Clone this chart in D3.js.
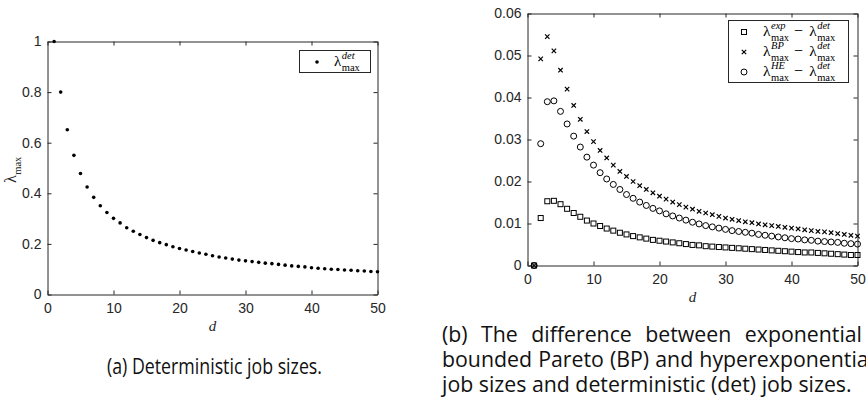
<!DOCTYPE html>
<html>
<head>
<meta charset="utf-8">
<script src="https://cdn.jsdelivr.net/npm/d3@7/dist/d3.min.js"></script>
<style>
body { margin: 0; background: #fff; }
</style>
</head>
<body>
<div id="vis"></div>
<script>
// values
var dValues = [1,2,3,4,5,6,7,8,9,10,11,12,13,14,15,16,17,18,19,20,21,22,23,24,25,
    26,27,28,29,30,31,32,33,34,35,36,37,38,39,40,41,42,43,44,45,46,47,48,49,50];

var lambdaDet = [1.000,0.800,0.651,0.550,0.478,0.425,0.384,0.351,0.324,0.301,
    0.283,0.264,0.250,0.237,0.225,0.214,0.205,0.197,0.189,0.182,
    0.176,0.170,0.164,0.159,0.153,0.148,0.144,0.140,0.136,0.133,
    0.130,0.127,0.124,0.122,0.119,0.116,0.113,0.111,0.109,0.106,
    0.104,0.102,0.100,0.099,0.097,0.096,0.094,0.093,0.091,0.090];

var diffExp = [0,0.0113,0.0153,0.0154,0.0146,0.0135,0.0125,0.0116,0.0107,0.0100,
    0.0094,0.0088,0.0083,0.0078,0.0074,0.0070,0.0067,0.0064,0.0061,0.0059,
    0.0057,0.0055,0.0053,0.0051,0.0049,0.0048,0.0046,0.0045,0.0044,0.0043,
    0.0042,0.0041,0.0040,0.0039,0.0038,0.0037,0.0036,0.0035,0.0034,0.0033,
    0.0032,0.0031,0.0031,0.0030,0.0029,0.0028,0.0027,0.0026,0.0025,0.0025];

var diffBP = [0,0.0492,0.0545,0.0511,0.0465,0.0420,0.0381,0.0348,0.0319,0.0295,
    0.0274,0.0256,0.0239,0.0224,0.0212,0.0200,0.0190,0.0181,0.0173,0.0165,
    0.0158,0.0151,0.0145,0.0139,0.0134,0.0129,0.0125,0.0121,0.0117,0.0113,
    0.0110,0.0107,0.0104,0.0102,0.0099,0.0097,0.0095,0.0093,0.0091,0.0089,
    0.0087,0.0085,0.0083,0.0081,0.0080,0.0078,0.0076,0.0074,0.0072,0.0070];

var diffHE = [0,0.0290,0.0390,0.0392,0.0367,0.0337,0.0308,0.0282,0.0258,0.0239,
    0.0221,0.0206,0.0193,0.0181,0.0169,0.0160,0.0151,0.0143,0.0136,0.0130,
    0.0123,0.0118,0.0113,0.0108,0.0103,0.0099,0.0095,0.0092,0.0089,0.0086,
    0.0083,0.0081,0.0079,0.0077,0.0074,0.0072,0.0070,0.0068,0.0066,0.0064,
    0.0063,0.0061,0.0060,0.0058,0.0057,0.0056,0.0055,0.0053,0.0052,0.0051];

var xTicks = [0, 10, 20, 30, 40, 50];
var leftYTicks = [0, 0.2, 0.4, 0.6, 0.8, 1];
var rightYTicks = [0, 0.01, 0.02, 0.03, 0.04, 0.05, 0.06];

var captionA = "(a) Deterministic job sizes.";
var captionB = ["(b) The difference between exponential",
    "bounded Pareto (BP) and hyperexponential",
    "job sizes and deterministic (det) job sizes."];

var axisColor = "#262626",
    tickFont = "'Liberation Sans', Arial, sans-serif",
    mathFont = "'Liberation Serif', 'DejaVu Serif', serif",
    capFont = "'Open Sans', 'Noto Sans', sans-serif";

var width = 866, height = 410;

var svg = d3.select("#vis").append("svg")
    .attr("width", width)
    .attr("height", height);

// math label like lambda^{sup}_{sub}, returns x after it
function lambda(g, x, y, sup, sub, size, small) {
    var t = g.append("text")
        .attr("x", x).attr("y", y)
        .attr("font-family", mathFont)
        .attr("font-size", size)
        .text("λ");
    var sx = x + t.node().getComputedTextLength() + 0.5;
    var w = 0;
    if (sup) {
        var s1 = g.append("text")
            .attr("x", sx).attr("y", y - size * 0.46)
            .attr("font-family", mathFont)
            .attr("font-style", "italic")
            .attr("font-size", small)
            .text(sup);
        w = s1.node().getComputedTextLength();
    }
    var s2 = g.append("text")
        .attr("x", sx).attr("y", y + size * 0.3)
        .attr("font-family", mathFont)
        .attr("font-size", small)
        .text(sub);
    w = Math.max(w, s2.node().getComputedTextLength());
    return sx + w;
}

function drawFrame(x, y, yTicks, yFormat) {
    var r0 = x.range(), r1 = y.range();

    var bottom = d3.axisBottom(x).tickValues(xTicks)
        .tickSizeInner(-4).tickSizeOuter(0).tickPadding(9);
    var top = d3.axisTop(x).tickValues(xTicks)
        .tickSizeInner(-4).tickSizeOuter(0).tickFormat("");
    var left = d3.axisLeft(y).tickValues(yTicks)
        .tickSizeInner(-4).tickSizeOuter(0).tickPadding(6).tickFormat(yFormat);
    var right = d3.axisRight(y).tickValues(yTicks)
        .tickSizeInner(-4).tickSizeOuter(0).tickFormat("");

    var gs = [
        svg.append("g").attr("transform", "translate(0," + r1[0] + ")").call(bottom),
        svg.append("g").attr("transform", "translate(0," + r1[1] + ")").call(top),
        svg.append("g").attr("transform", "translate(" + r0[0] + ",0)").call(left),
        svg.append("g").attr("transform", "translate(" + r0[1] + ",0)").call(right)
    ];
    gs.forEach(function(g) {
        g.select(".domain").attr("stroke", axisColor);
        g.selectAll(".tick line").attr("stroke", axisColor);
        g.selectAll("text")
            .attr("fill", axisColor)
            .attr("font-family", tickFont)
            .attr("font-size", 14);
    });
}

// ---------- (a) deterministic ----------
var xA = d3.scaleLinear().domain([0, 50]).range([47.5, 377.5]);
var yA = d3.scaleLinear().domain([0, 1]).range([294.5, 41.5]);

drawFrame(xA, yA, leftYTicks, function(d) { return d3.format("")(d); });

svg.append("g").selectAll("circle")
    .data(dValues)
    .enter().append("circle")
    .attr("cx", function(d) { return xA(d); })
    .attr("cy", function(d, i) { return yA(lambdaDet[i]); })
    .attr("r", 1.8)
    .attr("fill", "#000");

// x label
svg.append("text")
    .attr("x", (xA.range()[0] + xA.range()[1]) / 2)
    .attr("y", 331)
    .attr("text-anchor", "middle")
    .attr("font-family", mathFont)
    .attr("font-style", "italic")
    .attr("font-size", 15)
    .attr("fill", axisColor)
    .text("d");

// y label, rotated
var yLab = svg.append("g")
    .attr("transform", "translate(16," + 183 + ") rotate(-90)")
    .attr("fill", axisColor);
lambda(yLab, 0, 0, null, "max", 16, 10.5);

// legend (a)
svg.append("rect")
    .attr("x", 299.5).attr("y", 50.5)
    .attr("width", 71).attr("height", 22)
    .attr("fill", "#fff").attr("stroke", axisColor);
svg.append("circle")
    .attr("cx", 317).attr("cy", 62).attr("r", 1.8).attr("fill", "#000");
lambda(svg.append("g"), 334, 66, "det", "max", 15, 10.5);

// ---------- (b) differences ----------
var xB = d3.scaleLinear().domain([0, 50]).range([527.5, 857.5]);
var yB = d3.scaleLinear().domain([0, 0.06]).range([265.5, 13.5]);

drawFrame(xB, yB, rightYTicks, function(d) { return d === 0 ? "0" : d3.format(".2f")(d); });

var marks = svg.append("g")
    .attr("fill", "none")
    .attr("stroke", "#000")
    .attr("stroke-width", 1);

marks.selectAll("rect.exp")
    .data(dValues)
    .enter().append("rect")
    .attr("class", "exp")
    .attr("x", function(d) { return xB(d) - 2.5; })
    .attr("y", function(d, i) { return yB(diffExp[i]) - 2.5; })
    .attr("width", 5)
    .attr("height", 5);

marks.selectAll("path.bp")
    .data(dValues)
    .enter().append("path")
    .attr("class", "bp")
    .attr("stroke-width", 1.2)
    .attr("d", function(d, i) {
        var cx = xB(d), cy = yB(diffBP[i]), s = 2.2;
        return "M" + (cx - s) + "," + (cy - s) + "L" + (cx + s) + "," + (cy + s) +
            "M" + (cx - s) + "," + (cy + s) + "L" + (cx + s) + "," + (cy - s);
    });

marks.selectAll("circle.he")
    .data(dValues)
    .enter().append("circle")
    .attr("class", "he")
    .attr("cx", function(d) { return xB(d); })
    .attr("cy", function(d, i) { return yB(diffHE[i]); })
    .attr("r", 3);

svg.append("text")
    .attr("x", (xB.range()[0] + xB.range()[1]) / 2)
    .attr("y", 302)
    .attr("text-anchor", "middle")
    .attr("font-family", mathFont)
    .attr("font-style", "italic")
    .attr("font-size", 15)
    .attr("fill", axisColor)
    .text("d");

// legend (b)
svg.append("rect")
    .attr("x", 728.5).attr("y", 20.5)
    .attr("width", 120).attr("height", 62)
    .attr("fill", "#fff").attr("stroke", axisColor);

var legRows = [
    { sup: "exp", y: 32 },
    { sup: "BP", y: 52 },
    { sup: "HE", y: 72 }
];
legRows.forEach(function(r, i) {
    var g = svg.append("g");
    var mx = 744;
    if (i === 0) {
        g.append("rect").attr("x", mx - 2.5).attr("y", r.y - 2.5)
            .attr("width", 5).attr("height", 5)
            .attr("fill", "none").attr("stroke", "#000");
    } else if (i === 1) {
        g.append("path")
            .attr("d", "M" + (mx - 2.2) + "," + (r.y - 2.2) + "L" + (mx + 2.2) + "," + (r.y + 2.2) +
                "M" + (mx - 2.2) + "," + (r.y + 2.2) + "L" + (mx + 2.2) + "," + (r.y - 2.2))
            .attr("stroke", "#000").attr("stroke-width", 1.2);
    } else {
        g.append("circle").attr("cx", mx).attr("cy", r.y).attr("r", 3)
            .attr("fill", "none").attr("stroke", "#000");
    }
    var tx = lambda(g, 763, r.y + 4, r.sup, "max", 15.5, 10.5);
    var m = g.append("text")
        .attr("x", tx + 5).attr("y", r.y + 4)
        .attr("font-family", mathFont)
        .attr("font-size", 16)
        .text("−");
    lambda(g, tx + 11 + m.node().getComputedTextLength(), r.y + 4, "det", "max", 15.5, 10.5);
});

// ---------- captions ----------
// size the caption font so the last (unjustified) line of (b) is as wide as in the figure
var probe = svg.append("text")
    .attr("font-family", capFont)
    .attr("font-size", 18)
    .text(captionB[2]);
var capSize = 18 * 410 / probe.node().getComputedTextLength();
probe.remove();

svg.append("text")
    .attr("x", 107).attr("y", 374)
    .attr("font-family", capFont)
    .attr("font-size", capSize)
    .attr("fill", "#111")
    .attr("textLength", 215)
    .attr("lengthAdjust", "spacingAndGlyphs")
    .text(captionA);

var capY = [342, 367, 392];
var capW = [420, 432, null];
captionB.forEach(function(line, i) {
    var t = svg.append("text")
        .attr("x", 442).attr("y", capY[i])
        .attr("font-family", capFont)
        .attr("font-size", capSize)
        .attr("fill", "#111")
        .text(line);
    var nat = t.node().getComputedTextLength();
    if (capW[i]) {
        var gaps = line.split(" ").length - 1;
        var ws = (capW[i] - nat) / gaps;
        if (ws >= 0) t.attr("word-spacing", ws);
        else t.attr("textLength", capW[i]).attr("lengthAdjust", "spacingAndGlyphs");
    }
});
</script>
</body>
</html>
